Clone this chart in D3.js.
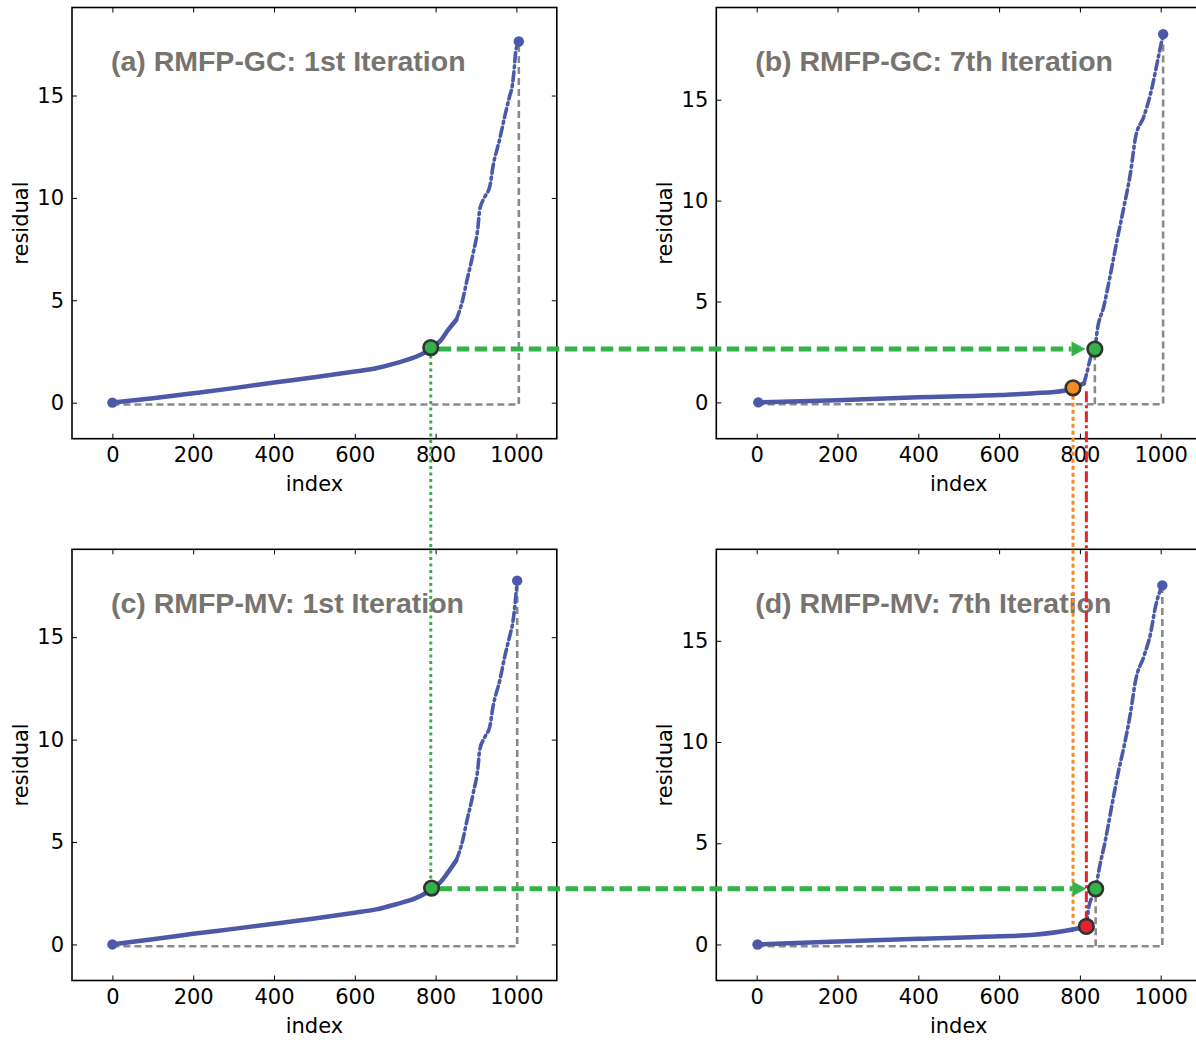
<!DOCTYPE html>
<html>
<head>
<meta charset="utf-8">
<script src="https://cdn.jsdelivr.net/npm/d3@7"></script>
<style>
  html, body { margin: 0; padding: 0; background: #fff; }
  svg { display: block; }
</style>
</head>
<body>
<svg id="fig" width="1196" height="1040"></svg>
<script>
// ---- data -----------------------------------------------------------------
const xTicks = [0, 200, 400, 600, 800, 1000];
const yTicks = [0, 5, 10, 15];
const titles = [
  "(a) RMFP-GC: 1st Iteration",
  "(b) RMFP-GC: 7th Iteration",
  "(c) RMFP-MV: 1st Iteration",
  "(d) RMFP-MV: 7th Iteration"
];

// sorted residuals: [index, residual]
const residualsA = [[0,0],[100,0.22],[200,0.46],[300,0.71],[400,0.98],[500,1.24],[600,1.52],[650,1.67],[700,1.92],[761,2.33],[777,2.5],[788,2.69],[810,2.98],[831,3.55],[851,4.04],[868,5.1],[876,5.83],[893,7.3],[905,8.6],[909,9.41],[922,10.06],[934,10.55],[942,11.53],[959,12.9],[971,13.97],[983,14.95],[990,15.5],[995,16.4],[998,17.1],[1006,17.64]];
const residualsB = [[4,0],[200,0.11],[400,0.25],[600,0.36],[686,0.45],[760,0.58],[783,0.72],[810,0.94],[817,1.44],[826,2.18],[837,2.64],[843,3.58],[859,4.74],[876,6.39],[892,8.04],[909,9.69],[925,11.35],[938,13.16],[958,14.15],[975,15.31],[996,17.29],[1006,18.25]];
const residualsC = [[0,0],[100,0.25],[200,0.52],[300,0.76],[400,1.01],[500,1.27],[600,1.55],[650,1.7],[700,1.95],[761,2.35],[777,2.53],[790,2.75],[810,3.0],[831,3.53],[851,4.1],[868,5.16],[876,5.9],[893,7.37],[905,8.67],[909,9.48],[922,10.13],[934,10.62],[942,11.6],[959,12.9],[971,14.04],[983,15.02],[990,15.6],[995,16.3],[998,16.9],[1002,17.76]];
const residualsD = [[2,0],[200,0.15],[400,0.28],[600,0.4],[686,0.48],[768,0.69],[816,0.89],[822,1.85],[830,2.34],[839,2.75],[847,3.66],[863,5.14],[880,6.96],[896,8.6],[909,9.76],[925,11.41],[938,13.06],[958,14.21],[975,15.37],[987,16.68],[1004,17.74]];

// detected knee points: [index, residual]
const kneeA = [788, 2.69];
const kneeB = [837, 2.64];
const kneeBPrev = [783, 0.72];
const kneeC = [790, 2.75];
const kneeD = [839, 2.75];
const kneeDPrev = [816, 0.89];

// axis ranges
const xDomain = [-100, 1100];
const yDomainA = [-1.76, 19.3];
const yDomainB = [-1.80, 19.57];
const yDomainC = [-1.76, 19.29];
const yDomainD = [-1.78, 19.52];

// ---- layout & style -------------------------------------------------------
const W = 484.8, H = 431.2;
const BLUE = "#4b59a8", GRAY = "#8a8a8a", GREEN = "#33b24a",
      ORANGE = "#f28c24", RED = "#e6232b", TITLE = "#77746f";
const BASE = -0.09; // level of the grey reference line

const svg = d3.select("#fig");

const panels = [
  { left: 72,    top: 7.5,   yDomain: yDomainA, data: residualsA, title: titles[0], solidTo: 851 },
  { left: 716.3, top: 7.5,   yDomain: yDomainB, data: residualsB, title: titles[1], solidTo: 810 },
  { left: 72,    top: 549.3, yDomain: yDomainC, data: residualsC, title: titles[2], solidTo: 851 },
  { left: 716.3, top: 549.3, yDomain: yDomainD, data: residualsD, title: titles[3], solidTo: 816 }
];

panels.forEach(p => {
  p.x = d3.scaleLinear().domain(xDomain).range([p.left, p.left + W]);
  p.y = d3.scaleLinear().domain(p.yDomain).range([p.top + H, p.top]);
});

const tickFont = "'DejaVu Sans', sans-serif";
const FS = 21;

// axes, ticks, labels
panels.forEach(p => {
  const g = svg.append("g");
  const bottom = g.append("g").attr("transform", `translate(0,${p.top + H})`)
    .call(d3.axisBottom(p.x).tickValues(xTicks).tickSize(-5).tickPadding(8.5).tickFormat(d3.format("d")));
  const top = g.append("g").attr("transform", `translate(0,${p.top})`)
    .call(d3.axisTop(p.x).tickValues(xTicks).tickSize(-5).tickFormat(""));
  const left = g.append("g").attr("transform", `translate(${p.left},0)`)
    .call(d3.axisLeft(p.y).tickValues(yTicks).tickSize(-5).tickPadding(8).tickFormat(d3.format("d")));
  const right = g.append("g").attr("transform", `translate(${p.left + W},0)`)
    .call(d3.axisRight(p.y).tickValues(yTicks).tickSize(-5).tickFormat(""));
  [bottom, top, left, right].forEach(a => {
    a.select(".domain").remove();
    a.selectAll(".tick line").attr("stroke", "#000").attr("stroke-width", 1);
    a.selectAll("text").attr("font-family", tickFont).attr("font-size", FS).attr("fill", "#000");
  });
  g.append("rect").attr("x", p.left).attr("y", p.top).attr("width", W).attr("height", H)
    .attr("fill", "none").attr("stroke", "#000").attr("stroke-width", 1.6);
  g.append("text").attr("x", p.left + W / 2).attr("y", p.top + H + 52)
    .attr("text-anchor", "middle").attr("font-family", tickFont).attr("font-size", FS)
    .text("index");
  g.append("text")
    .attr("transform", `translate(${p.left - 44},${p.top + H / 2}) rotate(-90)`)
    .attr("text-anchor", "middle").attr("font-family", tickFont).attr("font-size", FS)
    .text("residual");
});

// titles
panels.forEach(p => {
  svg.append("text").attr("x", p.x(0) - 1.5).attr("y", p.top + 63.5)
    .attr("font-family", "'Liberation Sans', Arial, sans-serif").attr("font-weight", "bold")
    .attr("font-size", 28.5).attr("fill", TITLE).text(p.title);
});

// grey reference corner and residual curves
panels.forEach(p => {
  const last = p.data[p.data.length - 1];
  const line = d3.line().x(d => p.x(d[0])).y(d => p.y(d[1])).curve(d3.curveMonotoneX);
  svg.append("path")
    .attr("d", d3.line()([[p.x(0), p.y(BASE)], [p.x(last[0]), p.y(BASE)], [p.x(last[0]), p.y(last[1])]]))
    .attr("fill", "none").attr("stroke", GRAY).attr("stroke-width", 2.6).attr("stroke-dasharray", "7,4");

  const solid = p.data.filter(d => d[0] <= p.solidTo);
  const steep = p.data.filter(d => d[0] >= p.solidTo);
  svg.append("path").attr("d", line(solid)).attr("fill", "none")
    .attr("stroke", BLUE).attr("stroke-width", 4.5).attr("stroke-linecap", "round");
  svg.append("path").attr("d", line(steep)).attr("fill", "none")
    .attr("stroke", BLUE).attr("stroke-width", 3.6).attr("stroke-linecap", "round")
    .attr("stroke-dasharray", "9,4,2,4");

  svg.selectAll(null).data([p.data[0], last]).enter().append("circle")
    .attr("cx", d => p.x(d[0])).attr("cy", d => p.y(d[1])).attr("r", 5.2).attr("fill", BLUE);
});

const [pA, pB, pC, pD] = panels;

// grey drops under the 7th-iteration knees
[[pB, kneeB], [pD, kneeD]].forEach(([p, k]) => {
  svg.append("line").attr("x1", p.x(k[0])).attr("x2", p.x(k[0]))
    .attr("y1", p.y(BASE)).attr("y2", p.y(k[1]))
    .attr("stroke", GRAY).attr("stroke-width", 2.6).attr("stroke-dasharray", "7,4");
});

// green dotted link between the 1st-iteration knees
svg.append("line").attr("x1", pA.x(kneeA[0])).attr("x2", pA.x(kneeA[0]))
  .attr("y1", pA.y(kneeA[1]) + 8).attr("y2", pC.y(kneeC[1]) - 8)
  .attr("stroke", GREEN).attr("stroke-width", 3).attr("stroke-dasharray", "3,3.5");

// orange dotted drop from the previous GC knee
svg.append("line").attr("x1", pB.x(kneeBPrev[0])).attr("x2", pB.x(kneeBPrev[0]))
  .attr("y1", pB.y(kneeBPrev[1]) + 8).attr("y2", pD.y(1.0))
  .attr("stroke", ORANGE).attr("stroke-width", 3).attr("stroke-dasharray", "4,3");

// red dash-dot drop to the previous MV knee
svg.append("line").attr("x1", pD.x(kneeDPrev[0])).attr("x2", pD.x(kneeDPrev[0]))
  .attr("y1", pB.y(0.55)).attr("y2", pD.y(kneeDPrev[1]))
  .attr("stroke", RED).attr("stroke-width", 3).attr("stroke-dasharray", "11,3,3,3");

// green dashed arrows carrying knees from the 1st to the 7th iteration
function arrow(p0, k0, p1, k1) {
  const y = p1.y(k1[1]);
  const tip = p1.x(k1[0]) - 9.3;
  const base = tip - 14;
  svg.append("line").attr("x1", p0.x(k0[0]) + 8).attr("x2", base).attr("y1", y).attr("y2", y)
    .attr("stroke", GREEN).attr("stroke-width", 5).attr("stroke-dasharray", "12.5,5.5");
  svg.append("path").attr("d", `M${base},${y - 7.5}L${tip},${y}L${base},${y + 7.5}Z`).attr("fill", GREEN);
}
arrow(pA, kneeA, pB, kneeB);
arrow(pC, kneeC, pD, kneeD);

// knee markers
[[pA, kneeA, GREEN], [pB, kneeB, GREEN], [pB, kneeBPrev, ORANGE],
 [pC, kneeC, GREEN], [pD, kneeD, GREEN], [pD, kneeDPrev, RED]].forEach(([p, k, c]) => {
  svg.append("circle").attr("cx", p.x(k[0])).attr("cy", p.y(k[1])).attr("r", 7.3)
    .attr("fill", c).attr("stroke", "#333").attr("stroke-width", 2.6);
});
</script>
</body>
</html>
